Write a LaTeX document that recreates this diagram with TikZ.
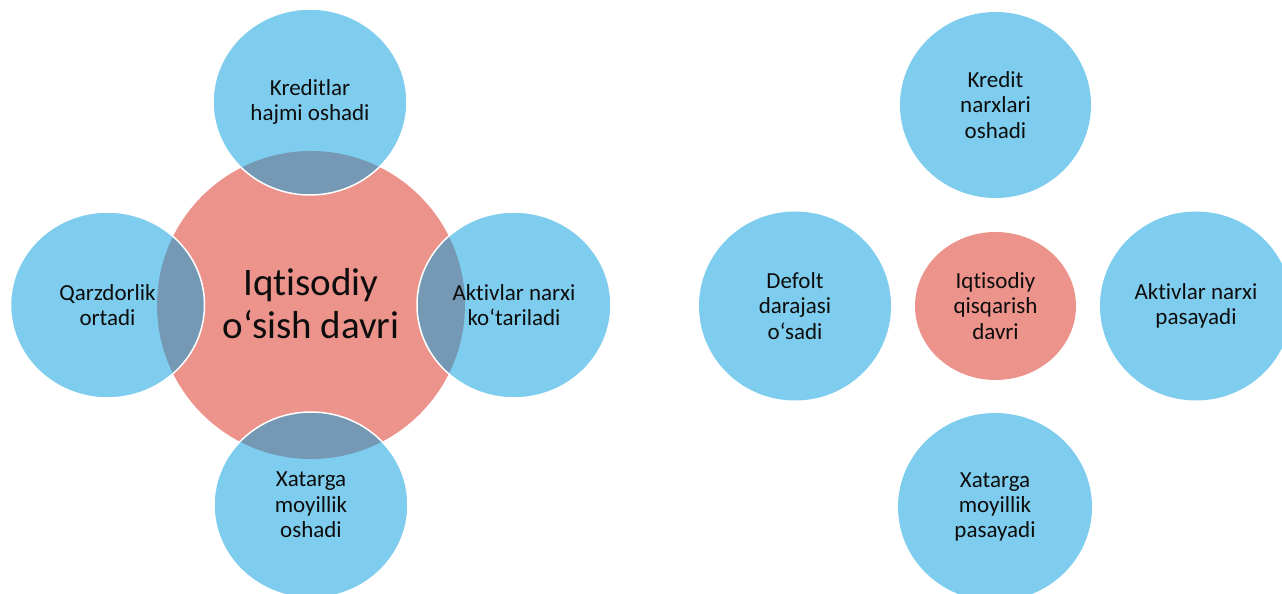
\documentclass[tikz,border=0pt]{standalone}
\usepackage{fontspec}
\setmainfont{Carlito}[Ligatures={NoCommon,NoContextual},Contextuals={NoAlternate}]
\usetikzlibrary{shapes.geometric}
\definecolor{bubble}{RGB}{127,205,238}
\definecolor{corefill}{RGB}{236,148,140}
\definecolor{lensfill}{RGB}{117,153,180}
\definecolor{ink}{RGB}{13,13,13}
\tikzset{
  bubble/.style={ellipse, fill=bubble, inner sep=0pt, outer sep=0pt,
                 minimum width=194pt, minimum height=186pt},
  hub/.style={ellipse, fill=corefill, inner sep=0pt, outer sep=0pt},
  txt/.style={text=ink, align=center, font=\fontsize{23}{25.3}\selectfont},
  bigtxt/.style={text=ink, align=center, font=\fontsize{39}{43}\selectfont},
  rim/.style={draw=white, line width=1.5pt},
  lens/.style={fill=lensfill}
}
\begin{document}
\begin{tikzpicture}[x=1pt,y=1pt]
\useasboundingbox (0,0) rectangle (1282,594);
\clip (0,0) rectangle (1282,594);

% ---------- growth phase: core circle with four overlapping bubbles ----------
\node[hub, minimum width=308pt, minimum height=308pt] (gcore) at (311,289) {};
\node[bubble] (gtop)    at (310,492) {};
\node[bubble] (gleft)   at (107.5,289) {};
\node[bubble] (gright)  at (514,289) {};
\node[bubble] (gbottom) at (311,89) {};

% overlap lenses
\foreach \b in {gtop,gleft,gright,gbottom}{
  \begin{scope}
    \clip (\b.center) ellipse [x radius=97, y radius=93];
    \fill[lens] (gcore.center) circle [radius=154];
  \end{scope}
  \draw[rim] (\b.center) ellipse [x radius=97, y radius=93];
}

\node[bigtxt] (gcoretxt) at ([yshift=1pt]gcore.center) {Iqtisodiy\\o‘sish davri};
\node[txt] (gtoptxt)    at (gtop.center)    {Kreditlar\\hajmi oshadi};
\node[txt] (glefttxt)   at (gleft.center)   {Qarzdorlik\\ortadi};
\node[txt] (grighttxt)  at (gright.center)  {Aktivlar narxi\\ko‘tariladi};
\node[txt] (gbottomtxt) at (gbottom.center) {Xatarga\\moyillik\\oshadi};

% ---------- contraction phase: separate bubbles ----------
\node[hub, minimum width=161pt, minimum height=148pt] (ccore) at (995.5,288) {};
\node[bubble, minimum width=191pt] (ctop) at (995.5,489) {};
\node[bubble, minimum width=192pt, minimum height=189pt] (cleft)  at (795,288) {};
\node[bubble, minimum width=192pt, minimum height=189pt] (cright) at (1196,288) {};
\node[bubble, minimum height=188pt] (cbottom) at (995,87) {};

\node[txt] (ccoretxt)   at (ccore.center)   {Iqtisodiy\\qisqarish\\davri};
\node[txt] (ctoptxt)    at (ctop.center)    {Kredit\\narxlari\\oshadi};
\node[txt] (clefttxt)   at (cleft.center)   {Defolt\\darajasi\\o‘sadi};
\node[txt] (crighttxt)  at (cright.center)  {Aktivlar narxi\\pasayadi};
\node[txt] (cbottomtxt) at (cbottom.center) {Xatarga\\moyillik\\pasayadi};
\end{tikzpicture}
\end{document}
